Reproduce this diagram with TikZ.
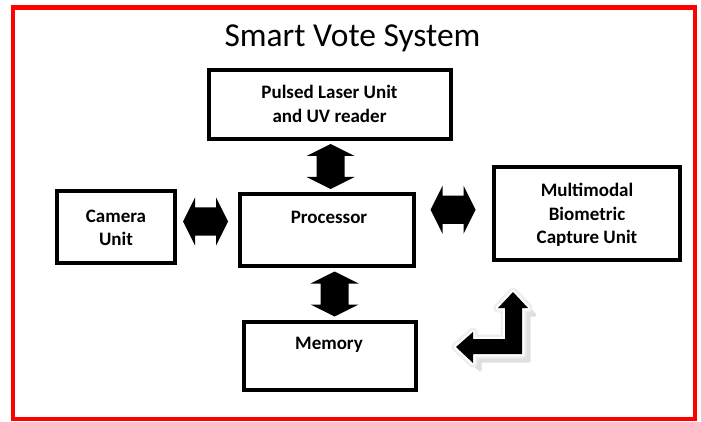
\documentclass[tikz,border=0pt]{standalone}
\usepackage{fontspec}
\setmainfont{Carlito}
\usetikzlibrary{calc}
\begin{document}
\begin{tikzpicture}[x=1pt,y=-1pt,
  box/.style={draw=black,line width=4pt,fill=white,inner sep=0pt},
  lbl/.style={font=\fontsize{19}{23.5}\selectfont\bfseries,align=center,inner sep=0pt,text=black},
  dbl/.pic={\fill[black] (-22.5,0) -- (-10.5,-24) -- (-10.5,-14) -- (10.5,-14) -- (10.5,-24)
      -- (22.5,0) -- (10.5,24) -- (10.5,14) -- (-10.5,14) -- (-10.5,24) -- cycle;}
]
\useasboundingbox (0,0) rectangle (701,422);
\fill[white] (0,0) rectangle (701,422);
\draw[red,line width=4.5pt] (13,7.5) rectangle (695,419);

\node[font=\fontsize{33.5}{38}\selectfont,anchor=base] (title) at (352.5,47) {Smart Vote System};

\node[box,minimum width=242pt,minimum height=69pt] (laser) at (330,104.5) {};
\node[box,minimum width=118pt,minimum height=72pt] (camera) at (116,227) {};
\node[box,minimum width=174pt,minimum height=72pt] (proc) at (327,230) {};
\node[box,minimum width=186pt,minimum height=93pt] (bio) at (587,213.5) {};
\node[box,minimum width=172pt,minimum height=68pt] (mem) at (330,356) {};

\node[lbl] (tlaser) at (329.5,104) {Pulsed Laser Unit\\and UV reader};
\node[lbl] (tcamera) at (116,228) {Camera\\Unit};
\node[lbl] (tproc) at (329,217) {Processor};
\node[lbl] (tbio) at (587,215) {Multimodal\\Biometric\\Capture Unit};
\node[lbl] (tmem) at (329,345) {Memory};

\coordinate (c1) at ($(laser.south)!0.5!(proc.north)+(2,0)$);
\coordinate (c2) at ($(proc.south)!0.5!(mem.north)+(6,0)$);
\coordinate (c3) at ($(camera.east)!0.5!(proc.west)+(-2,-7)$);
\coordinate (c4) at ($(proc.east)!0.5!(bio.west)+(-1,-12)$);
\pic[rotate=90] at (c1) {dbl};
\pic[rotate=90] at (c2) {dbl};
\pic at (c3) {dbl};
\pic at (c4) {dbl};

% bent arrow with shadow
\begin{scope}[shift={(7,7)}]
  \filldraw[gray!25,line width=3pt,line join=round] (513,292) -- (528,308) -- (522,308) -- (522,354) -- (473,354) -- (473,363) -- (456,347) -- (473,332) -- (473,339) -- (505,339) -- (505,308) -- (498,308) -- cycle;
\end{scope}
\filldraw[fill=white,draw=gray!14,line width=9pt,line join=round] (513,292) -- (528,308) -- (522,308) -- (522,354) -- (473,354) -- (473,363) -- (456,347) -- (473,332) -- (473,339) -- (505,339) -- (505,308) -- (498,308) -- cycle;
\filldraw[fill=white,draw=white,line width=4.5pt,line join=round] (513,292) -- (528,308) -- (522,308) -- (522,354) -- (473,354) -- (473,363) -- (456,347) -- (473,332) -- (473,339) -- (505,339) -- (505,308) -- (498,308) -- cycle;
\fill[black] (513,292) -- (528,308) -- (522,308) -- (522,354) -- (473,354) -- (473,363) -- (456,347) -- (473,332) -- (473,339) -- (505,339) -- (505,308) -- (498,308) -- cycle;
\end{tikzpicture}
\end{document}
